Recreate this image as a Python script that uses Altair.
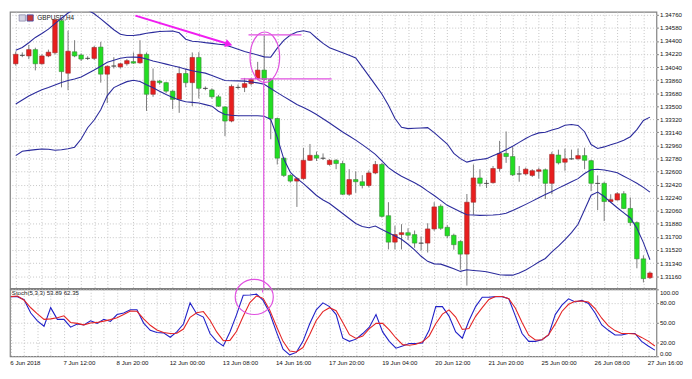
import altair as alt
import pandas as pd

symbol_title = "GBPUSD,H4"
stoch_title = "Stoch(5,3,3) 53.89 62.35"

date_labels = ["6 Jun 2018", "7 Jun 12:00", "8 Jun 20:00", "12 Jun 00:00", "13 Jun 08:00",
               "14 Jun 16:00", "17 Jun 20:00", "19 Jun 04:00", "20 Jun 12:00", "21 Jun 20:00",
               "25 Jun 00:00", "26 Jun 08:00", "27 Jun 16:00"]
price_ticks = [1.31160, 1.31340, 1.31520, 1.31700, 1.31880, 1.32060, 1.32240, 1.32420,
               1.32600, 1.32780, 1.32960, 1.33140, 1.33320, 1.33500, 1.33680, 1.33860,
               1.34040, 1.34220, 1.34400, 1.34580, 1.34760]
stoch_ticks = [0, 20, 50, 80, 100]

open_ = [1.34085, 1.34202, 1.34193, 1.34280, 1.34085, 1.34193, 1.34237, 1.34679, 1.33955, 1.34250,
         1.34206, 1.34159, 1.34159, 1.34315, 1.33942, 1.34055, 1.34042, 1.34085, 1.34115, 1.34098,
         1.34215, 1.33665, 1.33847, 1.33825, 1.33708, 1.33595, 1.33951, 1.33825, 1.34172, 1.33747,
         1.33725, 1.33630, 1.33491, 1.33296, 1.33760, 1.33760, 1.33812, 1.33881, 1.33998, 1.33868,
         1.33331, 1.32785, 1.32547, 1.32469, 1.32503, 1.32755, 1.32824, 1.32785, 1.32698, 1.32755,
         1.32711, 1.32287, 1.32490, 1.32460, 1.32408, 1.32581, 1.32698, 1.31992, 1.31628, 1.31732,
         1.31758, 1.31732, 1.31615, 1.31615, 1.31810, 1.32122, 1.31832, 1.31723, 1.31637, 1.31463,
         1.32178, 1.32512, 1.32438, 1.32447, 1.32642, 1.32850, 1.32807, 1.32568, 1.32568, 1.32547,
         1.32603, 1.32625, 1.32438, 1.32828, 1.32729, 1.32776, 1.32776, 1.32820, 1.32750, 1.32438,
         1.32438, 1.32187, 1.32209, 1.32295, 1.32092, 1.31897, 1.31398, 1.31138]
high = [1.34254, 1.34241, 1.34345, 1.34306, 1.34215, 1.34280, 1.34716, 1.34692, 1.34540, 1.34410,
        1.34228, 1.34189, 1.34332, 1.34388, 1.34063, 1.34176, 1.34098, 1.34150, 1.34241, 1.34410,
        1.34241, 1.34020, 1.33864, 1.33838, 1.33721, 1.34046, 1.34020, 1.34241, 1.34245, 1.33773,
        1.33747, 1.33656, 1.33500, 1.33799, 1.33799, 1.33890, 1.33890, 1.34111, 1.34475, 1.33890,
        1.33344, 1.32798, 1.32564, 1.32525, 1.32928, 1.32980, 1.32876, 1.32850, 1.32772, 1.32772,
        1.32746, 1.32633, 1.32603, 1.32551, 1.32616, 1.32746, 1.32720, 1.32178, 1.31853, 1.31875,
        1.31819, 1.31788, 1.31706, 1.31888, 1.32178, 1.32148, 1.31862, 1.31745, 1.31654, 1.32291,
        1.32698, 1.32633, 1.32486, 1.32677, 1.33023, 1.33153, 1.32937, 1.32677, 1.32655, 1.32633,
        1.32655, 1.32642, 1.32872, 1.32902, 1.32915, 1.32902, 1.32915, 1.32928, 1.32763, 1.32547,
        1.32460, 1.32287, 1.32317, 1.32330, 1.32243, 1.31914, 1.31446, 1.31225]
low = [1.34059, 1.34176, 1.34150, 1.33994, 1.34072, 1.34176, 1.34215, 1.33760, 1.33721, 1.34176,
       1.34124, 1.34137, 1.34137, 1.33825, 1.33543, 1.34020, 1.34020, 1.34059, 1.34085, 1.34085,
       1.33435, 1.33630, 1.33799, 1.33682, 1.33461, 1.33409, 1.33760, 1.33500, 1.33608, 1.33721,
       1.33604, 1.33490, 1.33088, 1.33279, 1.33734, 1.33695, 1.33786, 1.33864, 1.33851, 1.33045,
       1.32698, 1.32525, 1.32447, 1.32113, 1.32486, 1.32746, 1.32746, 1.32759, 1.32681, 1.32633,
       1.32278, 1.32265, 1.32308, 1.32369, 1.32382, 1.32564, 1.31966, 1.31528, 1.31528, 1.31528,
       1.31658, 1.31550, 1.31511, 1.31485, 1.31784, 1.31797, 1.31680, 1.31524, 1.31251, 1.31030,
       1.32005, 1.32395, 1.32373, 1.32434, 1.32599, 1.32720, 1.32538, 1.32460, 1.32547, 1.32525,
       1.32503, 1.32222, 1.32287, 1.32698, 1.32612, 1.32763, 1.32763, 1.32633, 1.32330, 1.32070,
       1.31918, 1.32178, 1.32200, 1.32083, 1.31853, 1.31268, 1.31073, 1.31121]
close = [1.34215, 1.34200, 1.34280, 1.34085, 1.34193, 1.34245, 1.34692, 1.33977, 1.34258, 1.34193,
         1.34150, 1.34160, 1.34310, 1.33942, 1.34050, 1.34053, 1.34085, 1.34128, 1.34094, 1.34215,
         1.33665, 1.33847, 1.33825, 1.33708, 1.33595, 1.33951, 1.33825, 1.34172, 1.33747, 1.33745,
         1.33630, 1.33500, 1.33296, 1.33773, 1.33758, 1.33812, 1.33868, 1.33998, 1.33868, 1.33331,
         1.32785, 1.32547, 1.32469, 1.32503, 1.32755, 1.32824, 1.32785, 1.32783, 1.32755, 1.32711,
         1.32287, 1.32490, 1.32460, 1.32408, 1.32581, 1.32698, 1.31983, 1.31628, 1.31732, 1.31758,
         1.31723, 1.31615, 1.31613, 1.31810, 1.32113, 1.31819, 1.31715, 1.31593, 1.31463, 1.32178,
         1.32512, 1.32438, 1.32436, 1.32642, 1.32850, 1.32807, 1.32555, 1.32566, 1.32633, 1.32612,
         1.32625, 1.32438, 1.32837, 1.32720, 1.32776, 1.32774, 1.32820, 1.32755, 1.32438, 1.32436,
         1.32187, 1.32213, 1.32295, 1.32092, 1.31897, 1.31398, 1.31125, 1.31203]

bb_upper = [1.34272, 1.34310, 1.34375, 1.34448, 1.34502, 1.34563, 1.34637, 1.34712, 1.34784, 1.34839,
            1.34865, 1.34826, 1.34774, 1.34704, 1.34630, 1.34554, 1.34493, 1.34475, 1.34475, 1.34487,
            1.34506, 1.34518, 1.34530, 1.34533, 1.34537, 1.34511, 1.34423, 1.34396, 1.34388, 1.34376,
            1.34366, 1.34355, 1.34345, 1.34315, 1.34285, 1.34255, 1.34231, 1.34206, 1.34180, 1.34176,
            1.34300, 1.34407, 1.34481, 1.34523, 1.34539, 1.34520, 1.34440, 1.34366, 1.34305, 1.34270,
            1.34236, 1.34202, 1.34164, 1.34042, 1.33919, 1.33794, 1.33669, 1.33514, 1.33330, 1.33210,
            1.33192, 1.33196, 1.33200, 1.33205, 1.33136, 1.33058, 1.32980, 1.32850, 1.32778, 1.32730,
            1.32754, 1.32767, 1.32778, 1.32817, 1.32856, 1.32902, 1.32949, 1.33002, 1.33055, 1.33102,
            1.33133, 1.33142, 1.33174, 1.33196, 1.33237, 1.33248, 1.33236, 1.33149, 1.32973, 1.32918,
            1.32940, 1.32971, 1.32996, 1.33031, 1.33080, 1.33178, 1.33305, 1.33350]
bb_middle = [1.33530, 1.33587, 1.33640, 1.33685, 1.33727, 1.33757, 1.33792, 1.33826, 1.33856, 1.33876,
             1.33902, 1.33951, 1.34000, 1.34052, 1.34106, 1.34134, 1.34160, 1.34175, 1.34177, 1.34173,
             1.34150, 1.34123, 1.34102, 1.34080, 1.34058, 1.34036, 1.34011, 1.33990, 1.33973, 1.33956,
             1.33922, 1.33889, 1.33855, 1.33852, 1.33850, 1.33846, 1.33834, 1.33822, 1.33802, 1.33744,
             1.33688, 1.33633, 1.33578, 1.33523, 1.33482, 1.33438, 1.33387, 1.33328, 1.33269, 1.33207,
             1.33145, 1.33089, 1.33033, 1.32971, 1.32906, 1.32838, 1.32746, 1.32655, 1.32591, 1.32535,
             1.32491, 1.32446, 1.32394, 1.32331, 1.32271, 1.32204, 1.32135, 1.32091, 1.32047, 1.32005,
             1.32001, 1.31997, 1.31998, 1.32001, 1.32008, 1.32027, 1.32063, 1.32104, 1.32148, 1.32193,
             1.32238, 1.32283, 1.32327, 1.32372, 1.32416, 1.32459, 1.32503, 1.32574, 1.32626, 1.32632,
             1.32621, 1.32604, 1.32583, 1.32537, 1.32489, 1.32438, 1.32382, 1.32317]
bb_lower = [1.32820, 1.32879, 1.32892, 1.32902, 1.32910, 1.32908, 1.32894, 1.32901, 1.32915, 1.32936,
            1.33048, 1.33204, 1.33310, 1.33451, 1.33647, 1.33757, 1.33798, 1.33839, 1.33859, 1.33842,
            1.33796, 1.33755, 1.33707, 1.33661, 1.33620, 1.33587, 1.33562, 1.33553, 1.33544, 1.33522,
            1.33501, 1.33432, 1.33386, 1.33375, 1.33370, 1.33370, 1.33370, 1.33370, 1.33362, 1.33318,
            1.33071, 1.32772, 1.32590, 1.32507, 1.32433, 1.32353, 1.32271, 1.32209, 1.32160, 1.32092,
            1.32023, 1.31954, 1.31885, 1.31842, 1.31827, 1.31849, 1.31803, 1.31758, 1.31714, 1.31668,
            1.31599, 1.31521, 1.31433, 1.31363, 1.31329, 1.31325, 1.31294, 1.31260, 1.31225, 1.31247,
            1.31238, 1.31231, 1.31221, 1.31199, 1.31179, 1.31173, 1.31173, 1.31204, 1.31244, 1.31298,
            1.31355, 1.31403, 1.31493, 1.31573, 1.31663, 1.31758, 1.31874, 1.32075, 1.32275, 1.32318,
            1.32257, 1.32177, 1.32102, 1.32030, 1.31961, 1.31820, 1.31621, 1.31385]

stoch_k = [89.1, 89.1, 84.5, 64.7, 53.0, 44.9, 72.7, 55.2, 55.2, 43.5,
           48.2, 46.8, 53.0, 49.2, 55.2, 52.0, 62.3, 64.7, 69.4, 69.4,
           49.6, 38.8, 35.5, 35.0, 28.4, 36.4, 48.2, 79.8, 63.3, 58.6,
           34.0, 22.3, 15.3, 36.4, 62.3, 91.1, 91.5, 92.9, 83.5, 64.7,
           36.4, 10.6, 2.1, 5.8, 22.3, 48.2, 69.4, 79.8, 74.2, 62.3,
           27.0, 22.3, 25.6, 34.0, 43.5, 62.3, 36.4, 22.3, 12.0, 15.3,
           19.1, 19.1, 19.9, 38.8, 74.2, 74.2, 60.0, 36.4, 27.0, 53.0,
           74.2, 88.3, 88.3, 89.1, 89.1, 85.9, 60.0, 34.0, 22.3, 22.3,
           24.7, 31.8, 62.3, 76.4, 85.9, 81.2, 83.5, 78.8, 64.7, 46.8,
           38.8, 31.8, 31.8, 34.0, 34.0, 22.3, 15.3, 9.2]
stoch_d = [89.1, 90.1, 83.8, 72.5, 63.3, 55.2, 55.9, 57.6, 60.5, 50.6,
           49.2, 46.9, 49.6, 50.6, 52.5, 54.8, 57.6, 62.3, 67.5, 67.2,
           55.9, 46.3, 39.3, 35.5, 34.0, 34.3, 40.7, 58.2, 65.0, 66.8,
           53.8, 36.4, 23.3, 23.7, 37.4, 59.7, 80.2, 90.1, 86.6, 68.9,
           44.9, 22.3, 7.9, 6.5, 13.1, 32.2, 53.4, 66.8, 72.6, 68.2,
           50.6, 32.2, 26.6, 30.1, 41.4, 49.2, 49.2, 39.5, 27.3, 17.4,
           16.4, 18.1, 21.6, 30.1, 48.7, 63.0, 69.4, 58.6, 40.1, 41.4,
           59.7, 72.7, 85.0, 89.3, 89.4, 85.9, 71.8, 50.6, 31.5, 24.3,
           24.7, 32.2, 48.4, 66.9, 77.7, 82.3, 82.6, 81.1, 71.3, 56.9,
           45.5, 38.4, 34.0, 34.0, 33.2, 28.2, 22.6, 15.3]

# hand-drawn annotations, in (bar index, price) / (bar index, stoch value)
arrow_bar = [18.3, 32.4]
arrow_price = [1.34748, 1.34360]
arrow_head = (32.6, 1.34356)
ellipse_center = (38.1, 1.34176)
hline_bar = [35.6, 34.4]
hline_bar2 = [43.7, 48.3]
hline_price = [1.34484, 1.33877]
vline_bar = 37.93
vline_top_price = 1.33877
stoch_circle_center = (36.66, 88.7)
stoch_vline_top = 100
stoch_vline_bottom = 95.3
# small chart-window icon left of the symbol title
icon_left = (1.0, 1.34716)
icon_right = (2.2, 1.34716)

# ---------------------------------------------------------------- styles
FONT = "Liberation Sans"
MAIN_W, MAIN_H, STO_H = 657, 281, 68
Y_MIN, Y_MAX = 1.30991, 1.34800
X_DOMAIN = [-0.131, 97.24]
GRID = "#c4c4c4"
MAG = "#f01ef0"
MAG2 = "#e050e0"
BB_COL = "#2b2b9c"

n = len(open_)
bars = list(range(n))
even_bars = list(range(0, n, 2))

candles = pd.DataFrame({"bar": bars, "open": open_, "high": high, "low": low, "close": close})
candles["dir"] = ["flat" if abs(c - o) < 0.00004 else ("up" if c > o else "down")
                  for o, c in zip(open_, close)]

bands = pd.concat([
    pd.DataFrame({"bar": bars, "value": bb_upper, "band": "upper"}),
    pd.DataFrame({"bar": bars, "value": bb_middle, "band": "middle"}),
    pd.DataFrame({"bar": bars, "value": bb_lower, "band": "lower"}),
])
stoch = pd.DataFrame({"bar": bars, "k": stoch_k, "d": stoch_d})

x_scale = alt.Scale(domain=X_DOMAIN, nice=False, zero=False)
y_scale = alt.Scale(domain=[Y_MIN, Y_MAX], nice=False, zero=False)
s_scale = alt.Scale(domain=[0, 100], nice=False, zero=False)

main_x_axis = alt.Axis(values=even_bars, labels=False, ticks=False, domain=False, grid=True,
                       gridColor=GRID, gridDash=[1, 2], gridWidth=1, title=None,
                       minExtent=0, maxExtent=0, offset=0, labelPadding=0, tickSize=0)
main_y_axis = alt.Axis(orient="right", values=price_ticks, format=".5f", grid=True,
                       gridColor=GRID, gridDash=[1, 2], gridWidth=1, domain=False,
                       tickSize=2, tickColor="#808080", labelFont=FONT, labelFontSize=6.2,
                       labelColor="#111111", labelPadding=1, title=None)

label_arr = "[" + ",".join("'" + d + "'" for d in date_labels) + "]"
sto_x_axis = alt.Axis(values=even_bars, labelExpr=f"datum.value % 8 === 0 ? {label_arr}[datum.value / 8] : ''",
                      ticks=False, domain=False, grid=True, gridColor=GRID, gridDash=[1, 2], gridWidth=1,
                      labelAlign="left", labelBaseline="top", labelPadding=3, labelOffset=-1,
                      labelOverlap=False, labelFont=FONT, labelFontSize=6.2, labelColor="#111111",
                      title=None, minExtent=0)
sto_y_axis = alt.Axis(orient="right", values=stoch_ticks, format=".2f", grid=True,
                      gridColor=GRID, gridDash=[1, 2], gridWidth=1, domain=False, labelFlush=True,
                      tickSize=2, tickColor="#808080", labelFont=FONT, labelFontSize=6.2,
                      labelColor="#111111", labelPadding=1, title=None)


def mx(field):
    return alt.X(f"{field}:Q", scale=x_scale, axis=main_x_axis, title=None)


def my(field):
    return alt.Y(f"{field}:Q", scale=y_scale, axis=main_y_axis, title=None)


def sx(field):
    return alt.X(f"{field}:Q", scale=x_scale, axis=sto_x_axis, title=None)


def sy(field):
    return alt.Y(f"{field}:Q", scale=s_scale, axis=sto_y_axis, title=None)


title_df = pd.DataFrame({"bar": [3.3], "price": [1.34722], "text": [symbol_title]})
title_mark = alt.Chart(title_df).mark_text(align="left", baseline="middle", font=FONT,
                                           fontSize=6.5, color="#222222").encode(
    x=mx("bar"), y=my("price"), text="text:N")

icon_l = alt.Chart(pd.DataFrame({"bar": [icon_left[0]], "price": [icon_left[1]]})).mark_square(
    size=40, opacity=1, fill="#d4d4e4", stroke="#8888aa", strokeWidth=0.8).encode(x=mx("bar"), y=my("price"))
icon_r = alt.Chart(pd.DataFrame({"bar": [icon_right[0]], "price": [icon_right[1]]})).mark_square(
    size=40, opacity=1, fill="#c83838", stroke="#3a4aa8", strokeWidth=0.8).encode(x=mx("bar"), y=my("price"))

wicks = alt.Chart(candles).mark_rule(color="#7a7a7a", strokeWidth=1).encode(
    x=mx("bar"), y=my("low"), y2="high:Q")

dir_dom = ["up", "down", "flat"]
bodies = alt.Chart(candles).mark_bar(size=4.6, strokeWidth=0.6).encode(
    x=mx("bar"), y=my("open"), y2="close:Q",
    fill=alt.Fill("dir:N", scale=alt.Scale(domain=dir_dom, range=["#e81e1e", "#22de22", "#505050"]), legend=None),
    stroke=alt.Stroke("dir:N", scale=alt.Scale(domain=dir_dom, range=["#9a2a2a", "#3a8a3a", "#404040"]), legend=None))

band_lines = alt.Chart(bands).mark_line(color=BB_COL, strokeWidth=1.1, clip=True).encode(
    x=mx("bar"), y=my("value"), detail="band:N")

arrow_df = pd.DataFrame({"bar": arrow_bar, "price": arrow_price})
arrow_line = alt.Chart(arrow_df).mark_line(color=MAG, strokeWidth=2).encode(x=mx("bar"), y=my("price"))
head_df = pd.DataFrame({"bar": [arrow_head[0]], "price": [arrow_head[1]]})
arrow_tip = alt.Chart(head_df).mark_point(shape="triangle-right", filled=True, size=70, angle=17,
                                          color=MAG, opacity=1).encode(x=mx("bar"), y=my("price"))

ell_df = pd.DataFrame({"bar": [ellipse_center[0]], "price": [ellipse_center[1]]})
ellipse = alt.Chart(ell_df).mark_point(
    shape="M -0.588 0 A 0.588 1 0 1 0 0.588 0 A 0.588 1 0 1 0 -0.588 0",
    size=2621, filled=False, strokeWidth=1.2, color=MAG2, opacity=1).encode(x=mx("bar"), y=my("price"))

hl_df = pd.DataFrame({"bar": hline_bar, "bar2": hline_bar2, "price": hline_price})
hlines = alt.Chart(hl_df).mark_rule(color=MAG2, strokeWidth=1.2).encode(
    x=mx("bar"), x2="bar2:Q", y=my("price"))

vl_df = pd.DataFrame({"bar": [vline_bar], "price": [vline_top_price], "price2": [Y_MIN]})
vline = alt.Chart(vl_df).mark_rule(color=MAG2, strokeWidth=1.2).encode(
    x=mx("bar"), y=my("price"), y2="price2:Q")

main = alt.layer(title_mark, icon_l, icon_r, wicks, bodies, band_lines, hlines, vline, ellipse,
                 arrow_line, arrow_tip).properties(width=MAIN_W, height=MAIN_H)

# ---------------------------------------------------------------- stochastic
k_line = alt.Chart(stoch).mark_line(color="#2020c8", strokeWidth=1.1).encode(x=sx("bar"), y=sy("k"))
d_line = alt.Chart(stoch).mark_line(color="#e42424", strokeWidth=1.1).encode(x=sx("bar"), y=sy("d"))

st_df = pd.DataFrame({"bar": [0.15], "v": [94.4], "text": [stoch_title]})
st_text = alt.Chart(st_df).mark_text(align="left", baseline="middle", font=FONT, fontSize=6.2,
                                     color="#222222").encode(x=sx("bar"), y=sy("v"), text="text:N")

sc_df = pd.DataFrame({"bar": [stoch_circle_center[0]], "v": [stoch_circle_center[1]]})
s_circle = alt.Chart(sc_df).mark_point(
    shape="M -1 0 A 1 0.922 0 1 0 1 0 A 1 0.922 0 1 0 -1 0",
    size=1498, filled=False, strokeWidth=1.2, color=MAG2, opacity=1).encode(x=sx("bar"), y=sy("v"))

svl_df = pd.DataFrame({"bar": [vline_bar], "v": [stoch_vline_top], "v2": [stoch_vline_bottom]})
s_vline = alt.Chart(svl_df).mark_rule(color=MAG2, strokeWidth=1.2).encode(
    x=sx("bar"), y=sy("v"), y2="v2:Q")

sto = alt.layer(st_text, k_line, d_line, s_vline, s_circle).properties(width=MAIN_W, height=STO_H)

chart = alt.vconcat(main, sto, spacing=1, bounds="flush").properties(
    padding={"left": 0, "top": 0, "right": 0, "bottom": 0}, background="white"
).configure_view(stroke="#808080", strokeWidth=1.2)

chart.save("out.html", embed_options={"renderer": "svg", "actions": False})
